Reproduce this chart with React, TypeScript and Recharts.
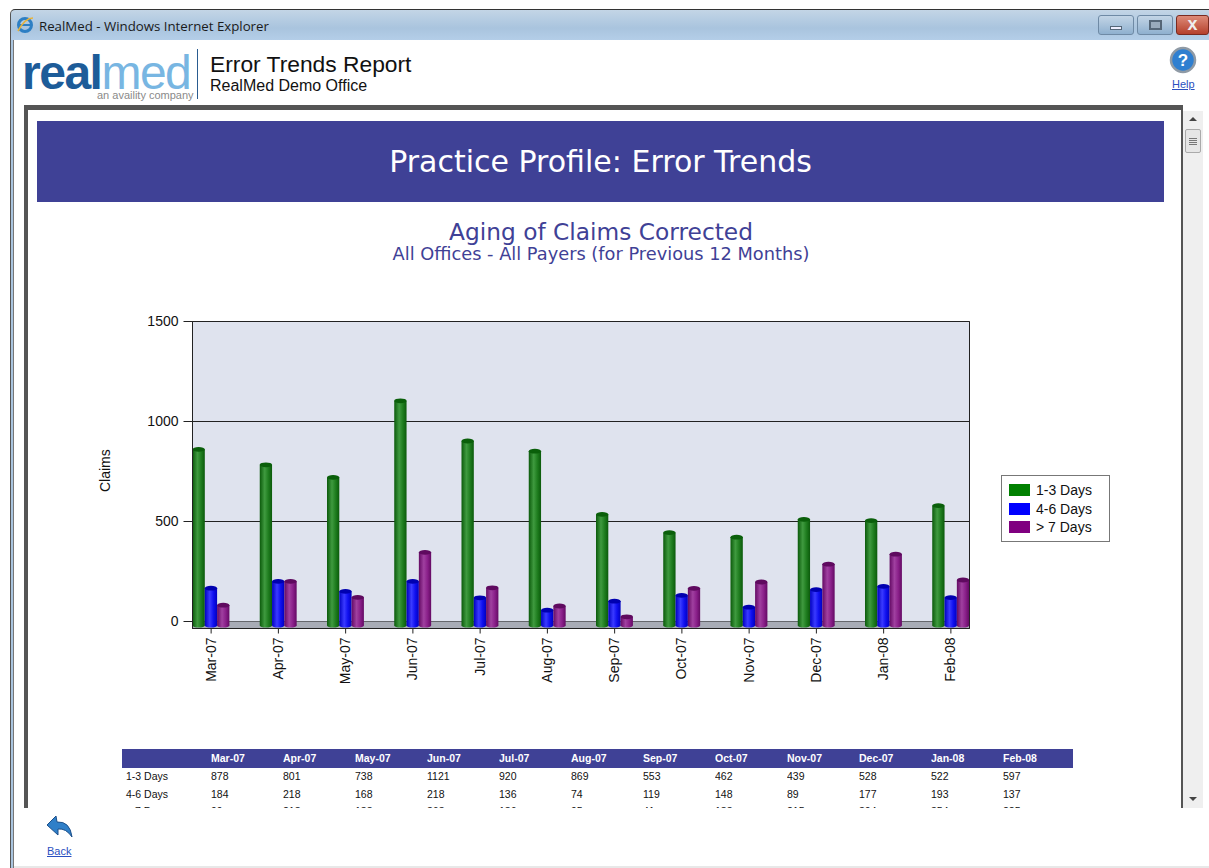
import React from 'react';
import {
  BarChart,
  Bar,
  XAxis,
  YAxis,
  CartesianGrid,
  Legend,
  ReferenceArea,
} from 'recharts';

const months = ['Mar-07', 'Apr-07', 'May-07', 'Jun-07', 'Jul-07', 'Aug-07', 'Sep-07', 'Oct-07', 'Nov-07', 'Dec-07', 'Jan-08', 'Feb-08'];
const days1to3 = [878, 801, 738, 1121, 920, 869, 553, 462, 439, 528, 522, 597];
const days4to6 = [184, 218, 168, 218, 136, 74, 119, 148, 89, 177, 193, 137];
const daysOver7 = [99, 218, 138, 363, 186, 95, 41, 183, 215, 304, 354, 225];
const yTicks = [0, 500, 1000, 1500];

const seriesNames = ['1-3 Days', '4-6 Days', '> 7 Days'];
const seriesColors = ['#008000', '#0000ff', '#800080'];

const chartData = months.map((month, i) => ({
  month,
  a: days1to3[i],
  b: days4to6[i],
  c: daysOver7[i],
}));

const tableRows = [days1to3, days4to6, daysOver7];

const ARIAL = '"Liberation Sans", Arial, sans-serif';
const VERDANA = '"DejaVu Sans", Verdana, sans-serif';
const SEGOE = '"Open Sans", "Noto Sans", sans-serif';
const INDIGO = '#3f4196';

// bars stand in front of the back wall, so they sit a few px lower than the gridlines
function Cylinder(props: any) {
  const { x, y, width, height, fill } = props;
  const id = fill === '#008000' ? 'cylGreen' : fill === '#0000ff' ? 'cylBlue' : 'cylPurple';
  const top = y + 3.5;
  const bottom = y + height + 4;
  const cap = fill === '#008000' ? '#0a5f0a' : fill === '#0000ff' ? '#0000b0' : '#5f0a5f';
  const cx = x + width / 2;
  return (
    <g>
      <rect x={x} y={top} width={width} height={bottom - top} fill={`url(#${id})`} />
      <ellipse cx={cx} cy={bottom} rx={width / 2} ry={2} fill={`url(#${id})`} />
      <ellipse cx={cx} cy={top} rx={width / 2} ry={2.4} fill={cap} />
    </g>
  );
}

function MonthTick(props: any) {
  const { x, y, payload } = props;
  return (
    <g transform={`translate(${x},${y + 2}) rotate(-90)`}>
      <text textAnchor="end" dy={4.5} fontSize={14} fontFamily={ARIAL} fill="#111">
        {payload.value}
      </text>
    </g>
  );
}

function LegendBox(props: any) {
  const { payload } = props;
  return (
    <div style={{ width: 107, height: 65, border: '1px solid #777', background: '#fff', boxSizing: 'content-box' }}>
      {(payload || []).map((item: any, i: number) => (
        <div key={i} style={{ position: 'absolute', left: 8, top: 6 + i * 18.5, height: 18, display: 'flex', alignItems: 'center', fontFamily: ARIAL, fontSize: 14, color: '#111' }}>
          <span style={{ display: 'inline-block', width: 21, height: 12, background: item.color, marginRight: 6 }} />
          {item.value}
        </div>
      ))}
    </div>
  );
}

function Gradient({ id, edge, light, mid }: { id: string; edge: string; light: string; mid: string }) {
  return (
    <linearGradient id={id} x1="0" y1="0" x2="1" y2="0">
      <stop offset="0%" stopColor={edge} />
      <stop offset="40%" stopColor={light} />
      <stop offset="70%" stopColor={mid} />
      <stop offset="100%" stopColor={edge} />
    </linearGradient>
  );
}

function AgingChart() {
  return (
    <div style={{ position: 'absolute', left: 80, top: 290 }}>
      <BarChart
        width={1050}
        height={420}
        data={chartData}
        barSize={12.3}
        barGap={0}
        margin={{ top: 31.5, right: 51.5, bottom: 21.5, left: 12.5 }}
      >
        <defs>
          <Gradient id="cylGreen" edge="#0b5a0b" light="#3f9a3f" mid="#1f7d1f" />
          <Gradient id="cylBlue" edge="#0000c0" light="#3a3aff" mid="#1010f0" />
          <Gradient id="cylPurple" edge="#640a64" light="#a040a0" mid="#8a208a" />
        </defs>
        <CartesianGrid vertical={false} stroke="#222" strokeOpacity={1} fill="#dfe3ee" fillOpacity={1} />
        {/* the hidden axis has no padding, so these two span exactly the plot */}
        <ReferenceArea xAxisId="frame" y1={-35} y2={0} fill="#a8acb6" fillOpacity={1} stroke="none" />
        <ReferenceArea xAxisId="frame" y1={-35} y2={1500} fill="none" stroke="#222" strokeOpacity={1} />
        <XAxis xAxisId="frame" type="number" hide />
        <XAxis
          dataKey="month"
          height={60}
          interval={0}
          tickSize={5}
          padding={{ left: -15, right: -15 }}
          tick={<MonthTick />}
          stroke="#222"
        />
        <YAxis
          width={100}
          domain={[-35, 1500]}
          ticks={yTicks}
          tickSize={9}
          tickMargin={5}
          stroke="#222"
          tick={{ fontSize: 14, fontFamily: ARIAL, fill: '#111' }}
          label={{ value: 'Claims', angle: -90, position: 'insideLeft', dx: 8, dy: 17, fontSize: 14, fontFamily: ARIAL, fill: '#111' }}
        />
        <Legend
          layout="vertical"
          align="right"
          verticalAlign="middle"
          width={109}
          content={<LegendBox />}
          wrapperStyle={{ left: 921, top: 185, right: 'auto', bottom: 'auto', width: 109, height: 67 }}
        />
        <Bar dataKey="a" name={seriesNames[0]} fill={seriesColors[0]} shape={<Cylinder />} isAnimationActive={false} />
        <Bar dataKey="b" name={seriesNames[1]} fill={seriesColors[1]} shape={<Cylinder />} isAnimationActive={false} />
        <Bar dataKey="c" name={seriesNames[2]} fill={seriesColors[2]} shape={<Cylinder />} isAnimationActive={false} />
      </BarChart>
    </div>
  );
}

function DataTable() {
  const cell: React.CSSProperties = { padding: 0, fontFamily: ARIAL, fontSize: 10.5, lineHeight: '16px', color: '#111', textAlign: 'left', verticalAlign: 'top', overflow: 'hidden' };
  return (
    <table style={{ position: 'absolute', left: 122, top: 749, width: 951, borderCollapse: 'collapse', tableLayout: 'fixed' }}>
      <colgroup>
        <col style={{ width: 89 }} />
        {months.map((m) => (
          <col key={m} style={{ width: m === 'Feb-08' ? 70 : 72 }} />
        ))}
      </colgroup>
      <thead>
        <tr style={{ background: INDIGO }}>
          <th style={{ ...cell, height: 19 }} />
          {months.map((m) => (
            <th key={m} style={{ ...cell, height: 19, lineHeight: '19px', color: '#fff', fontWeight: 700 }}>{m}</th>
          ))}
        </tr>
      </thead>
      <tbody>
        {tableRows.map((row, i) => (
          <tr key={i}>
            <td style={{ ...cell, height: i === 0 ? 18 : 17, paddingLeft: 4 }}>{seriesNames[i]}</td>
            {row.map((v, j) => (
              <td key={j} style={{ ...cell, height: i === 0 ? 18 : 17 }}>{v}</td>
            ))}
          </tr>
        ))}
      </tbody>
    </table>
  );
}

function WindowChrome() {
  const btn = (left: number, width: number, bg: string): React.CSSProperties => ({
    position: 'absolute', left, top: 15, width, height: 20, background: bg,
    border: '1px solid #6f8aa5', borderRadius: 3, boxSizing: 'border-box',
  });
  return (
    <>
      {/* title bar */}
      <div style={{ position: 'absolute', left: 10, top: 9, width: 1199, height: 31, background: 'linear-gradient(#c3d5e6, #a9c4de 60%, #b4cee8)', borderTop: '1px solid #333', borderLeft: '1px solid #555', borderTopLeftRadius: 5, boxSizing: 'border-box' }} />
      <div style={{ position: 'absolute', left: 39, top: 17, fontFamily: SEGOE, fontSize: 13.25, lineHeight: '18px', color: '#1a1a1a', whiteSpace: 'nowrap' }}>RealMed - Windows Internet Explorer</div>
      <svg style={{ position: 'absolute', left: 16, top: 16 }} width={18} height={18}>
        <circle cx={9} cy={9} r={6.5} fill="none" stroke="#2d7fc4" strokeWidth={3} />
        <path d="M3 9 H15" stroke="#2d7fc4" strokeWidth={2} />
        <path d="M2 15 Q9 2 17 2" fill="none" stroke="#e8b33a" strokeWidth={1.6} />
      </svg>
      <div style={btn(1098, 36, 'linear-gradient(#c3d5e6, #8fb0cf)')}>
        <div style={{ position: 'absolute', left: 11, top: 10, width: 12, height: 4, background: '#eef', border: '1px solid #567', boxSizing: 'border-box' }} />
      </div>
      <div style={btn(1137, 36, 'linear-gradient(#c3d5e6, #8fb0cf)')}>
        <div style={{ position: 'absolute', left: 11, top: 4, width: 13, height: 10, border: '2px solid #567', background: '#9ab', boxSizing: 'border-box' }} />
      </div>
      <div style={{ ...btn(1176, 33, 'linear-gradient(#dd8a78, #b5402c)'), borderColor: '#7a2a20', color: '#eee', fontFamily: ARIAL, fontWeight: 700, fontSize: 18, lineHeight: '16px', textAlign: 'center' }}>x</div>

      {/* window side and bottom edges */}
      <div style={{ position: 'absolute', left: 10, top: 40, width: 4, height: 828, background: '#a9c4de', borderLeft: '1px solid #555', borderRight: '1px solid #777', boxSizing: 'border-box' }} />
      <div style={{ position: 'absolute', left: 14, top: 866, width: 1195, height: 2, background: '#e8e8e8' }} />

      {/* logo */}
      <div style={{ position: 'absolute', left: 22, top: 48, fontFamily: ARIAL, fontSize: 48, lineHeight: '50px', letterSpacing: -1.5, whiteSpace: 'nowrap' }}>
        <span style={{ fontWeight: 700, color: '#1d5c99' }}>real</span>
        <span style={{ color: '#78b6e2' }}>med</span>
      </div>
      <div style={{ position: 'absolute', left: 97, top: 89, fontFamily: ARIAL, fontSize: 11, color: '#8a8a8a', whiteSpace: 'nowrap' }}>an availity company</div>
      <div style={{ position: 'absolute', left: 197, top: 49, width: 1, height: 50, background: '#2a5c90' }} />
      <div style={{ position: 'absolute', left: 210, top: 51, fontFamily: ARIAL, fontSize: 22.8, color: '#111', whiteSpace: 'nowrap' }}>Error Trends Report</div>
      <div style={{ position: 'absolute', left: 210, top: 77, fontFamily: ARIAL, fontSize: 16, color: '#111', whiteSpace: 'nowrap' }}>RealMed Demo Office</div>

      {/* help */}
      <svg style={{ position: 'absolute', left: 1169, top: 46 }} width={28} height={28}>
        <circle cx={14} cy={14} r={12} fill="#2f7fd0" stroke="#8f9aa5" strokeWidth={2.5} />
        <text x={14} y={20} textAnchor="middle" fontFamily={ARIAL} fontWeight={700} fontSize={17} fill="#fff">?</text>
      </svg>
      <a style={{ position: 'absolute', left: 1172, top: 78, fontFamily: ARIAL, fontSize: 11, color: '#2a4fc0', textDecoration: 'underline' }}>Help</a>

      {/* back */}
      <svg style={{ position: 'absolute', left: 44, top: 813 }} width={30} height={28}>
        <path d="M3 12 L12 3 L13 9 Q26 8 28 24 Q22 15 14 16 L14 22 Z" fill="#2f7fc8" stroke="#1c4f8a" strokeWidth={1} />
      </svg>
      <a style={{ position: 'absolute', left: 47, top: 845, fontFamily: ARIAL, fontSize: 11, color: '#2a4fc0', textDecoration: 'underline' }}>Back</a>
    </>
  );
}

function Scrollbar() {
  return (
    <div style={{ position: 'absolute', left: 1183, top: 111, width: 20, height: 697, background: '#efefef' }}>
      <div style={{ position: 'absolute', left: 6, top: 6, width: 0, height: 0, borderLeft: '4px solid transparent', borderRight: '4px solid transparent', borderBottom: '4px solid #444' }} />
      <div style={{ position: 'absolute', left: 2, top: 18, width: 16, height: 24, background: '#e6e6e6', border: '1px solid #aaa', borderRadius: 2, boxSizing: 'border-box' }} />
      {[27, 29, 31, 33].map((t) => (
        <div key={t} style={{ position: 'absolute', left: 6, top: t, width: 8, height: 1, background: '#777' }} />
      ))}
      <div style={{ position: 'absolute', left: 6, top: 686, width: 0, height: 0, borderLeft: '4px solid transparent', borderRight: '4px solid transparent', borderTop: '4px solid #444' }} />
    </div>
  );
}

export default function App() {
  return (
    <div style={{ position: 'fixed', left: 0, top: 0, width: 1209, height: 868, overflow: 'hidden', background: '#fff' }}>
      <WindowChrome />
      {/* report frame */}
      <div style={{ position: 'absolute', left: 24, top: 105, width: 1159, height: 703, background: '#555' }} />
      <div style={{ position: 'absolute', left: 28, top: 110, width: 1153, height: 698, overflow: 'hidden', background: '#fff' }}>
        <div style={{ position: 'absolute', left: -28, top: -110, width: 1209, height: 868 }}>
          <div style={{ position: 'absolute', left: 37, top: 121, width: 1127, height: 81, background: INDIGO, color: '#fff', fontFamily: VERDANA, fontSize: 30, lineHeight: '81px', textAlign: 'center' }}>
            Practice Profile: Error Trends
          </div>
          <div style={{ position: 'absolute', left: 0, top: 217, width: 1202, textAlign: 'center', fontFamily: VERDANA, fontSize: 23.3, lineHeight: '30px', color: INDIGO }}>
            Aging of Claims Corrected
          </div>
          <div style={{ position: 'absolute', left: 0, top: 243, width: 1202, textAlign: 'center', fontFamily: VERDANA, fontSize: 17.8, lineHeight: '22px', color: INDIGO }}>
            All Offices - All Payers (for Previous 12 Months)
          </div>
          <AgingChart />
          <DataTable />
        </div>
      </div>
      <Scrollbar />
    </div>
  );
}
